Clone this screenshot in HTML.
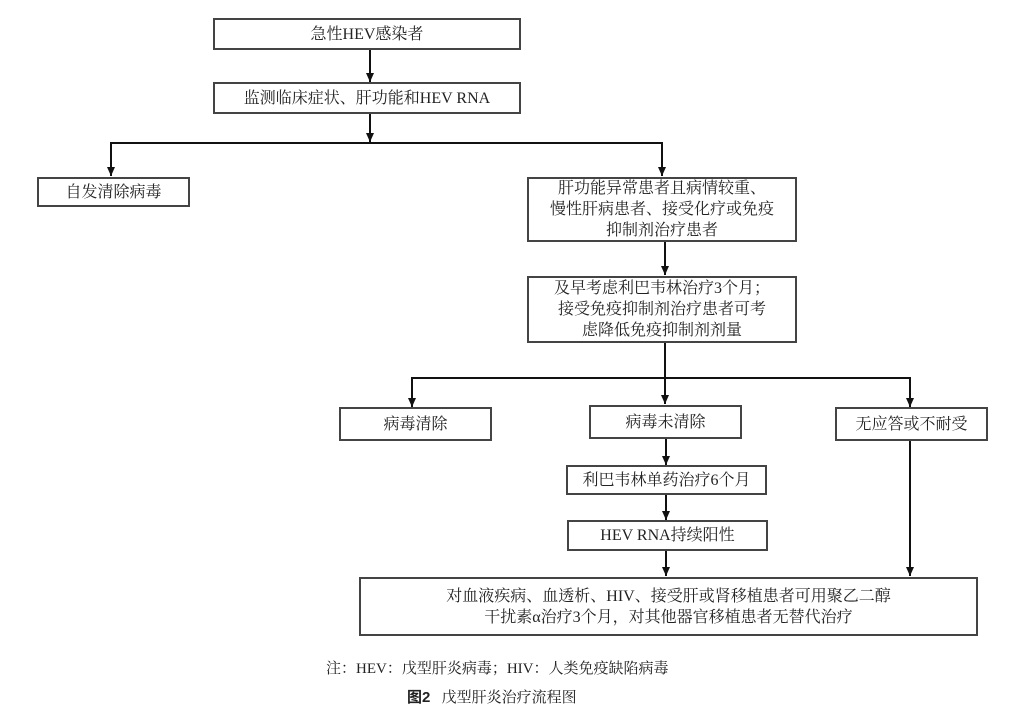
<!DOCTYPE html>
<html><head><meta charset="utf-8"><style>
body{margin:0;background:#fff;width:1024px;height:721px;position:relative;font-family:"Liberation Serif","Noto Serif CJK SC",serif;color:#222}
.b{position:absolute;border:2px solid #444;box-sizing:border-box;display:flex;align-items:center;justify-content:center;text-align:center;font-size:16px;line-height:21px}
svg{position:absolute;left:0;top:0}
.t{position:absolute;font-size:15px;white-space:nowrap}
</style></head><body>
<svg width="1024" height="721">
<defs><marker id="a" markerWidth="9" markerHeight="8" refX="9" refY="4" orient="auto" markerUnits="userSpaceOnUse"><path d="M0,0 L9,4 L0,8z" fill="#111"/></marker></defs>
<g stroke="#111" stroke-width="2" fill="none">
<line x1="370" y1="49" x2="370" y2="82" marker-end="url(#a)"/>
<line x1="370" y1="113" x2="370" y2="142" marker-end="url(#a)"/>
<polyline points="111,176 111,143 662,143 662,176"/>
<line x1="111" y1="150" x2="111" y2="176" marker-end="url(#a)"/>
<line x1="662" y1="150" x2="662" y2="176" marker-end="url(#a)"/>
<line x1="665" y1="241" x2="665" y2="275" marker-end="url(#a)"/>
<line x1="665" y1="342" x2="665" y2="377"/>
<polyline points="412,407 412,378 910,378 910,407"/>
<line x1="412" y1="385" x2="412" y2="407" marker-end="url(#a)"/>
<line x1="665" y1="378" x2="665" y2="404" marker-end="url(#a)"/>
<line x1="910" y1="385" x2="910" y2="407" marker-end="url(#a)"/>
<line x1="666" y1="438" x2="666" y2="465" marker-end="url(#a)"/>
<line x1="666" y1="494" x2="666" y2="520" marker-end="url(#a)"/>
<line x1="666" y1="550" x2="666" y2="576" marker-end="url(#a)"/>
<line x1="910" y1="440" x2="910" y2="576" marker-end="url(#a)"/>
</g></svg>
<div class="b" style="left:213px;top:18px;width:308px;height:32px">急性HEV感染者</div>
<div class="b" style="left:213px;top:82px;width:308px;height:32px">监测临床症状、肝功能和HEV RNA</div>
<div class="b" style="left:37px;top:177px;width:153px;height:30px">自发清除病毒</div>
<div class="b" style="left:527px;top:177px;width:270px;height:65px">肝功能异常患者且病情较重、<br>慢性肝病患者、接受化疗或免疫<br>抑制剂治疗患者</div>
<div class="b" style="left:527px;top:276px;width:270px;height:67px">及早考虑利巴韦林治疗3个月；<br>接受免疫抑制剂治疗患者可考<br>虑降低免疫抑制剂剂量</div>
<div class="b" style="left:339px;top:407px;width:153px;height:34px">病毒清除</div>
<div class="b" style="left:589px;top:405px;width:153px;height:34px">病毒未清除</div>
<div class="b" style="left:835px;top:407px;width:153px;height:34px">无应答或不耐受</div>
<div class="b" style="left:566px;top:465px;width:201px;height:30px">利巴韦林单药治疗6个月</div>
<div class="b" style="left:567px;top:520px;width:201px;height:31px">HEV RNA持续阳性</div>
<div class="b" style="left:359px;top:577px;width:619px;height:59px">对血液疾病、血透析、HIV、接受肝或肾移植患者可用聚乙二醇<br>干扰素α治疗3个月，对其他器官移植患者无替代治疗</div>
<div class="t" style="left:326px;top:657px">注：HEV：戊型肝炎病毒；HIV：人类免疫缺陷病毒</div>
<div class="t" style="left:407px;top:686px"><b style="font-family:'Liberation Sans','Noto Sans CJK SC',sans-serif">图2</b>&nbsp;&nbsp;&nbsp;戊型肝炎治疗流程图</div>
</body></html>
